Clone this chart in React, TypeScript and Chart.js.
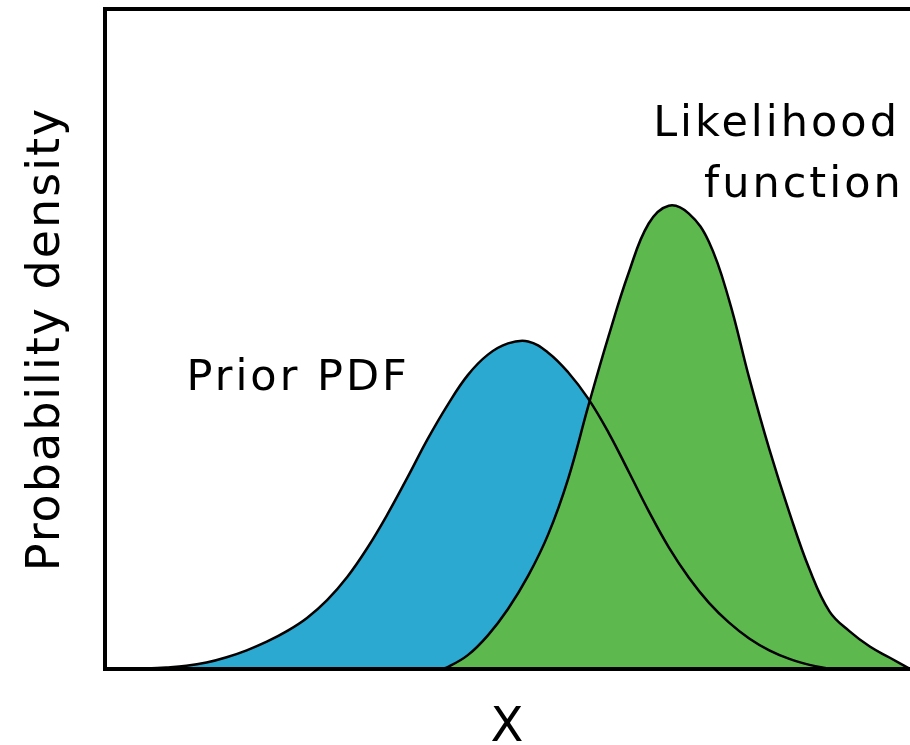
import React, { useEffect, useRef } from "react";
import { Chart, registerables } from "chart.js";

Chart.register(...registerables);

// Prior PDF (blue) – x position, density
const priorX = [2.5, 5, 7.5, 10, 12.5, 15, 17.5, 20, 22.5, 25, 27.5, 30, 32.5, 35, 37.5, 40, 42.5, 45, 47.5, 50, 52.5, 55, 57.5, 60, 62.5, 65, 67.5, 70, 72.5, 75, 77.5, 80, 82.5, 85, 87.5, 90];
const priorY = [0, 0.08, 0.23, 0.48, 0.98, 1.78, 2.83, 4.13, 5.73, 7.73, 10.43, 13.93, 18.33, 23.43, 29.03, 34.83, 40.03, 44.53, 47.63, 49.33, 49.63, 47.93, 44.93, 40.93, 35.83, 29.93, 23.93, 18.43, 13.83, 10.03, 7.03, 4.63, 2.83, 1.53, 0.63, 0];

// Likelihood function (green)
const likeX = [41.6, 42.5, 45, 47.5, 50, 52.5, 55, 57.5, 60, 62.5, 65, 67.5, 70, 72.5, 75, 77.5, 80, 82.5, 85, 87.5, 90, 92.5, 95, 97.5, 100];
const likeY = [0, 0.3, 2.1, 5.1, 9.1, 14.1, 20.4, 28.9, 39.9, 50.4, 60.0, 67.5, 70.2, 69.0, 64.7, 55.9, 44.1, 33.3, 23.7, 15.1, 8.7, 5.7, 3.4, 1.7, 0];

const labelTexts = ["Prior PDF", "Likelihood", "function"];
const labelX = [23.9, 83.4, 86.8];
const labelY = [44.0, 82.5, 73.2];

const axisTitleX = "X";
const axisTitleY = "Probability density";

const FONT = "'DejaVu Sans', sans-serif";
const BLUE = "#2BA9D1";
const GREEN = "#5DB84E";

const pts = (xs: number[], ys: number[]) => xs.map((x, i) => ({ x, y: ys[i] }));

const framePlugin = {
  id: "frame",
  beforeDraw(chart: any) {
    (chart.ctx as any).letterSpacing = "2px";
  },
  afterDatasetsDraw(chart: any) {
    const { ctx, chartArea, scales } = chart;
    ctx.save();
    ctx.fillStyle = "#000";
    ctx.textAlign = "center";
    ctx.textBaseline = "middle";
    (ctx as any).letterSpacing = "3px";
    ctx.font = `43px ${FONT}`;
    labelTexts.forEach((t, i) => {
      ctx.fillText(t, scales.x.getPixelForValue(labelX[i]), scales.y.getPixelForValue(labelY[i]));
    });
    ctx.strokeStyle = "#000";
    ctx.lineWidth = 4;
    ctx.beginPath();
    ctx.moveTo(chartArea.right, chartArea.top);
    ctx.lineTo(chartArea.left - 1, chartArea.top);
    ctx.lineTo(chartArea.left - 1, chartArea.bottom);
    ctx.lineTo(chartArea.right, chartArea.bottom);
    ctx.stroke();
    ctx.restore();
  },
};

export default function App() {
  const ref = useRef<HTMLCanvasElement | null>(null);
  useEffect(() => {
    document.body.style.margin = "0";
    const canvas = ref.current!;
    const common = { pointRadius: 0, tension: 0.4 };
    const chart = new Chart(canvas, {
      type: "line",
      data: {
        datasets: [
          {
            label: "Prior PDF",
            data: pts(priorX, priorY),
            fill: "origin",
            backgroundColor: BLUE,
            borderColor: "rgba(0,0,0,0)",
            borderWidth: 0,
            order: 3,
            ...common,
          },
          {
            label: "Likelihood function",
            data: pts(likeX, likeY),
            fill: "origin",
            backgroundColor: GREEN,
            borderColor: "#000",
            borderWidth: 2.5,
            order: 2,
            ...common,
          },
          {
            label: "Prior PDF outline",
            data: pts(priorX, priorY),
            fill: false,
            borderColor: "#000",
            borderWidth: 2.5,
            order: 1,
            ...common,
          },
        ],
      },
      options: {
        responsive: false,
        animation: false,
        layout: { padding: { top: 9, right: 0, left: 0, bottom: 0 } },
        plugins: { legend: { display: false }, tooltip: { enabled: false } },
        scales: {
          x: {
            type: "linear",
            min: 0,
            max: 100,
            ticks: { display: false },
            grid: { display: false },
            border: { display: false },
            title: {
              display: true,
              text: axisTitleX,
              color: "#000",
              font: { family: FONT, size: 48, lineHeight: 1 },
              padding: { top: 28, bottom: -8 },
            },
          },
          y: {
            type: "linear",
            min: 0,
            max: 100,
            ticks: { display: false },
            grid: { display: false },
            border: { display: false },
            title: {
              display: true,
              text: axisTitleY,
              color: "#000",
              font: { family: FONT, size: 46, lineHeight: 1 },
              padding: { top: 24, bottom: 28 },
            },
          },
        },
      },
      plugins: [framePlugin],
    });
    return () => chart.destroy();
  }, []);
  return <canvas ref={ref} width={910} height={745} style={{ display: "block" }} />;
}
